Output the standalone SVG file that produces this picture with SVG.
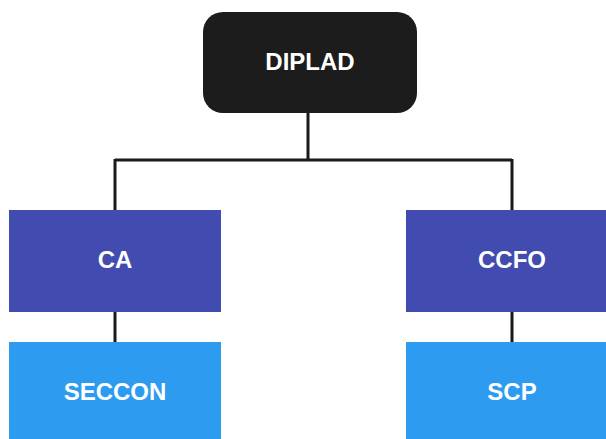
<svg xmlns="http://www.w3.org/2000/svg" width="606" height="439" viewBox="0 0 606 439">
<style>
.lbl{font-family:"Liberation Sans",Arial,sans-serif;font-weight:bold;font-size:24px;fill:#ffffff;text-anchor:middle}
.conn{stroke:#1a1a1a;stroke-width:3;fill:none}
.lvl1{fill:#424bb0}
.lvl2{fill:#2d9bf0}
</style>
<rect width="606" height="439" fill="#ffffff"/>
<g id="connectors">
<path class="conn" d="M308 112 V160 M115 160 H512 M115 159 V211 M512 159 V211 M115 311 V343 M512 311 V343"/>
</g>
<g id="DIPLAD">
<rect x="203" y="12" width="214" height="101" rx="20" fill="#1c1c1c"/>
<text class="lbl" x="310" y="70">DIPLAD</text>
</g>
<g id="CA">
<rect class="lvl1" x="9" y="210" width="212" height="102"/>
<text class="lbl" x="115" y="268">CA</text>
</g>
<g id="CCFO">
<rect class="lvl1" x="406" y="210" width="212" height="102"/>
<text class="lbl" x="512" y="268">CCFO</text>
</g>
<g id="SECCON">
<rect class="lvl2" x="9" y="342" width="212" height="102"/>
<text class="lbl" x="115" y="400">SECCON</text>
</g>
<g id="SCP">
<rect class="lvl2" x="406" y="342" width="212" height="102"/>
<text class="lbl" x="512" y="400">SCP</text>
</g>
</svg>
